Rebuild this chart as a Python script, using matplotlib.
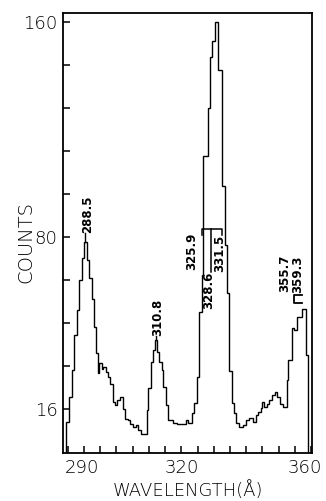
import numpy as np
import matplotlib
matplotlib.use("Agg")
from matplotlib import pyplot as plt
from matplotlib import transforms

# histogram: bin edges (angstrom) and counts
wl_edges = [284.5, 285.3, 286.15, 286.9, 287.75, 288.45, 289.25, 289.85, 290.75, 291.65,
            292.35, 292.95, 293.6, 294.2, 294.7, 295.45, 295.95, 296.8, 297.5, 298.0,
            298.85, 299.55, 300.25, 301.1, 302.1, 302.65, 303.45, 304.2, 305.2, 306.05,
            306.75, 307.6, 309.35, 309.85, 310.65, 311.35, 311.9, 312.4, 313.15, 313.95,
            314.45, 315.2, 316.0, 317.55, 318.6, 321.3, 322.05, 323.15, 324.05, 324.85,
            325.6, 326.25, 326.8, 328.1, 328.85, 329.6, 330.25, 331.4, 332.45, 333.5,
            334.2, 334.8, 335.55, 336.25, 336.85, 337.9, 339.1, 339.95, 340.95, 342.2,
            343.05, 343.75, 344.45, 344.9, 345.5, 346.35, 347.15, 347.9, 348.9, 349.6,
            350.45, 351.25, 352.5, 353.0, 354.05, 354.75, 355.55, 357.3, 358.45, 359.15]
counts = [11.3, 20.6, 30.5, 43.5, 52.8, 64, 72, 78, 71.4, 64.7,
          57, 46.5, 36.8, 29.4, 33, 31, 31.7, 29.8, 27.9, 25.4,
          18.6, 17.3, 19.2, 20.4, 16.1, 12.4, 11.7, 10.5, 9.2, 9.9,
          8.0, 6.8, 15.6, 23.8, 33.6, 38, 41.6, 37.3, 33.6, 30.5,
          24.3, 17.5, 11.9, 10.7, 10.3, 11.8, 10.8, 14.5, 18.2, 28,
          52, 66, 110, 128, 147, 153, 160, 142, 99, 77,
          59, 30, 18.2, 14.5, 10.8, 9.4, 10, 11.9, 12.5, 11.3,
          13.8, 15, 16.3, 18.7, 16.8, 18, 19.2, 21.1, 22.4, 20.4,
          18, 16.8, 26.8, 34.2, 46, 45.4, 50.3, 53, 36]

x_ticks = np.arange(285, 361, 5)
x_ticklabels = {290: "290", 320: "320", 360: "360"}
y_ticks = np.arange(16, 161, 16)
y_ticklabels = {16: "16", 80: "80", 160: "160"}

# peak labels: text, x, y (data), vertical alignment
peak_labels = ["288.5", "310.8", "325.9", "328.6", "331.5", "355.7", "359.3"]
label_x = [291.1, 312.6, 323.3, 328.55, 331.9, 352.0, 356.0]
label_y = [81.5, 43.0, 67.5, 67.0, 67.0, 59.5, 59.2]
label_va = ["bottom", "bottom", "bottom", "top", "bottom", "bottom", "bottom"]

edges = np.array(wl_edges)
cnt = np.array(counts)

fig = plt.figure(figsize=(3.26, 5.01), dpi=100)
ax = fig.add_axes([63/326, 48/501, 249/326, 440/501])

ax.stairs(cnt, edges, baseline=0, color="black", lw=1.0)

ax.set_xlim(283.5, 360.3)
ax.set_ylim(-0.4, 163.3)

ax.set_xticks(x_ticks)
ax.set_xticklabels([x_ticklabels.get(int(t), "") for t in x_ticks])
ax.set_yticks(y_ticks)
ax.set_yticklabels([y_ticklabels.get(int(t), "") for t in y_ticks])
ax.tick_params(direction="in", length=5, width=1.1, labelsize=13, pad=4)
for lab in ax.get_xticklabels() + ax.get_yticklabels():
    lab.set_fontweight("light")
# pull the end labels in a little, as on the original
for lab, t in zip(ax.get_xticklabels(), x_ticks):
    if t == 360:
        lab.set_transform(lab.get_transform() + transforms.ScaledTranslation(-0.06, 0, fig.dpi_scale_trans))
    elif t == 290:
        lab.set_transform(lab.get_transform() + transforms.ScaledTranslation(-0.02, 0, fig.dpi_scale_trans))
for s in ax.spines.values():
    s.set_linewidth(1.3)

ax.set_xlabel("WAVELENGTH(Å)", fontsize=13, fontweight="light")
ax.xaxis.set_label_coords(0.5, -0.065)
ax.xaxis.label.set_va("top")
ax.set_ylabel("COUNTS", fontsize=14, fontweight="light")
ax.yaxis.set_label_coords(-0.112, 0.48)

# peak labels
for txt, lx, ly, va in zip(peak_labels, label_x, label_y, label_va):
    ax.text(lx, ly, txt, rotation=90, ha="center", va=va,
            fontsize=8.5, fontweight="bold")

# leaders from the two isolated peaks up to their labels
centers = (edges[:-1] + edges[1:]) / 2
for lo, hi, ly in [(286, 295, label_y[0]), (308, 316, label_y[1])]:
    m = (centers > lo) & (centers < hi)
    i = np.argmax(np.where(m, cnt, -1))
    ax.plot([centers[i], centers[i]], [cnt[i], ly], color="black", lw=1.0)

# bracket over the main blend
ax.plot([326.4, 326.4, 332.55, 332.55], [80.7, 83.0, 83.0, 80.7], color="black", lw=1.1)
ax.plot([329.15, 329.15], [83.0, 67.0], color="black", lw=1.1)

# small bracket for the 355.7 / 359.3 pair
ax.plot([357.3, 354.6, 354.6, 357.3], [58.4, 58.4, 55.4, 55.4], color="black", lw=1.3)

fig.savefig("out.png", dpi=100)
